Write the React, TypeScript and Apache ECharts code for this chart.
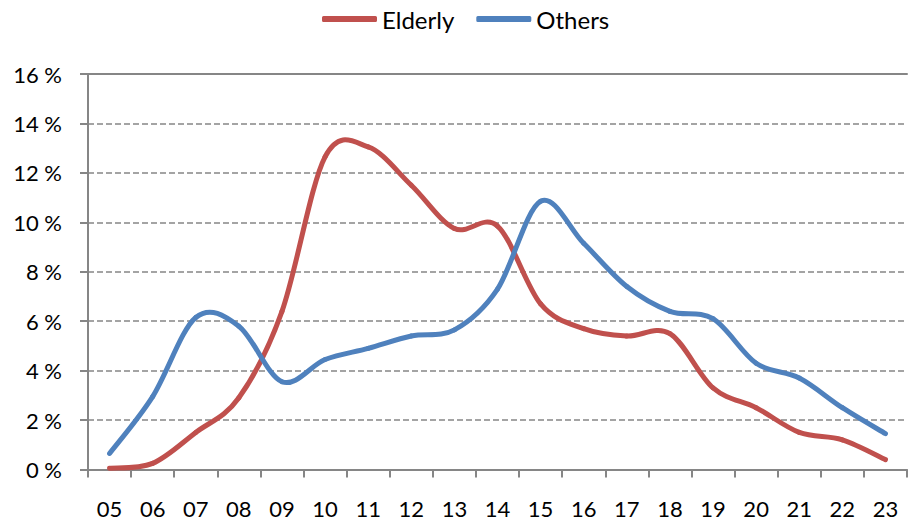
import React, { useEffect, useRef } from "react";
import * as echarts from "echarts";

const categories = ["05", "06", "07", "08", "09", "10", "11", "12", "13", "14", "15", "16", "17", "18", "19", "20", "21", "22", "23"];
const elderly = [0.05, 0.25, 1.5, 2.9, 6.4, 12.65, 13.05, 11.5, 9.75, 9.85, 6.7, 5.7, 5.4, 5.5, 3.3, 2.5, 1.5, 1.2, 0.4];
const others = [0.65, 2.95, 6.15, 5.8, 3.55, 4.45, 4.9, 5.4, 5.65, 7.3, 10.85, 9.15, 7.4, 6.4, 6.1, 4.3, 3.7, 2.5, 1.45];
const seriesNames = ["Elderly", "Others"];
const seriesColors = ["#C0504D", "#4F81BD"];

const FONT = "Lato, 'Open Sans', sans-serif";
const GRAY = "#868686";

// one record per segment: [index, prev, current, next, nextnext]
function segments(values: number[]) {
  const n = values.length;
  const out: number[][] = [];
  for (let i = 0; i < n - 1; i++) {
    out.push([i, values[Math.max(i - 1, 0)], values[i], values[i + 1], values[Math.min(i + 2, n - 1)]]);
  }
  return out;
}

function makeRenderItem(color: string, n: number) {
  return (params: any, api: any) => {
    const i = api.value(0);
    const p0 = api.coord([Math.max(i - 1, 0), api.value(1)]);
    const p1 = api.coord([i, api.value(2)]);
    const p2 = api.coord([i + 1, api.value(3)]);
    const p3 = api.coord([Math.min(i + 2, n - 1), api.value(4)]);
    const t = 1 / 6;
    return {
      type: "bezierCurve",
      shape: {
        x1: p1[0],
        y1: p1[1],
        cpx1: p1[0] + (p2[0] - p0[0]) * t,
        cpy1: p1[1] + (p2[1] - p0[1]) * t,
        cpx2: p2[0] - (p3[0] - p1[0]) * t,
        cpy2: p2[1] - (p3[1] - p1[1]) * t,
        x2: p2[0],
        y2: p2[1],
      },
      style: { stroke: color, lineWidth: 5, fill: null, lineCap: "round" },
    };
  };
}

export default function App() {
  const ref = useRef<HTMLDivElement>(null);
  useEffect(() => {
    if (!ref.current) return;
    const chart = echarts.init(ref.current, null, { renderer: "svg" });
    const data = [elderly, others];
    chart.setOption({
      animation: false,
      backgroundColor: "#ffffff",
      textStyle: { fontFamily: FONT },
      legend: {
        top: 2,
        left: 317,
        itemWidth: 55,
        itemHeight: 6,
        itemGap: 22,
        icon: "roundRect",
        textStyle: { fontFamily: FONT, fontSize: 24, color: "#000" },
        data: seriesNames,
      },
      grid: { left: 88, right: 1, top: 74, bottom: 53.5, containLabel: false },
      xAxis: [
        {
          type: "category",
          data: categories,
          boundaryGap: true,
          axisLine: { show: true, lineStyle: { color: GRAY, width: 2 } },
          axisTick: { show: true, length: 8, lineStyle: { color: GRAY, width: 2 } },
          axisLabel: { fontFamily: FONT, fontSize: 22, color: "#000", margin: 28, lineHeight: 22 },
          splitLine: { show: false },
        },
        {
          type: "category",
          data: categories,
          position: "top",
          boundaryGap: true,
          axisLine: { show: true, lineStyle: { color: GRAY, width: 2 } },
          axisTick: { show: false },
          axisLabel: { show: false },
          splitLine: { show: false },
        },
      ],
      yAxis: {
        type: "value",
        min: 0,
        max: 16,
        interval: 2,
        axisLine: { show: true, lineStyle: { color: GRAY, width: 2 } },
        axisTick: { show: true, length: 8, lineStyle: { color: GRAY, width: 2 } },
        axisLabel: { fontFamily: FONT, fontSize: 22, color: "#000", margin: 26, formatter: "{value} %" },
        splitLine: { show: true, lineStyle: { color: GRAY, width: 1.5, type: [6, 3] } },
      },
      series: seriesNames.map((name, k) => ({
        name,
        type: "custom",
        xAxisIndex: 0,
        yAxisIndex: 0,
        data: segments(data[k]),
        encode: { x: 0, y: 2 },
        itemStyle: { color: seriesColors[k] },
        renderItem: makeRenderItem(seriesColors[k], data[k].length),
      })),
    });
    return () => chart.dispose();
  }, []);
  return <div ref={ref} style={{ position: "fixed", left: 0, top: 0, width: 908, height: 523 }} />;
}
